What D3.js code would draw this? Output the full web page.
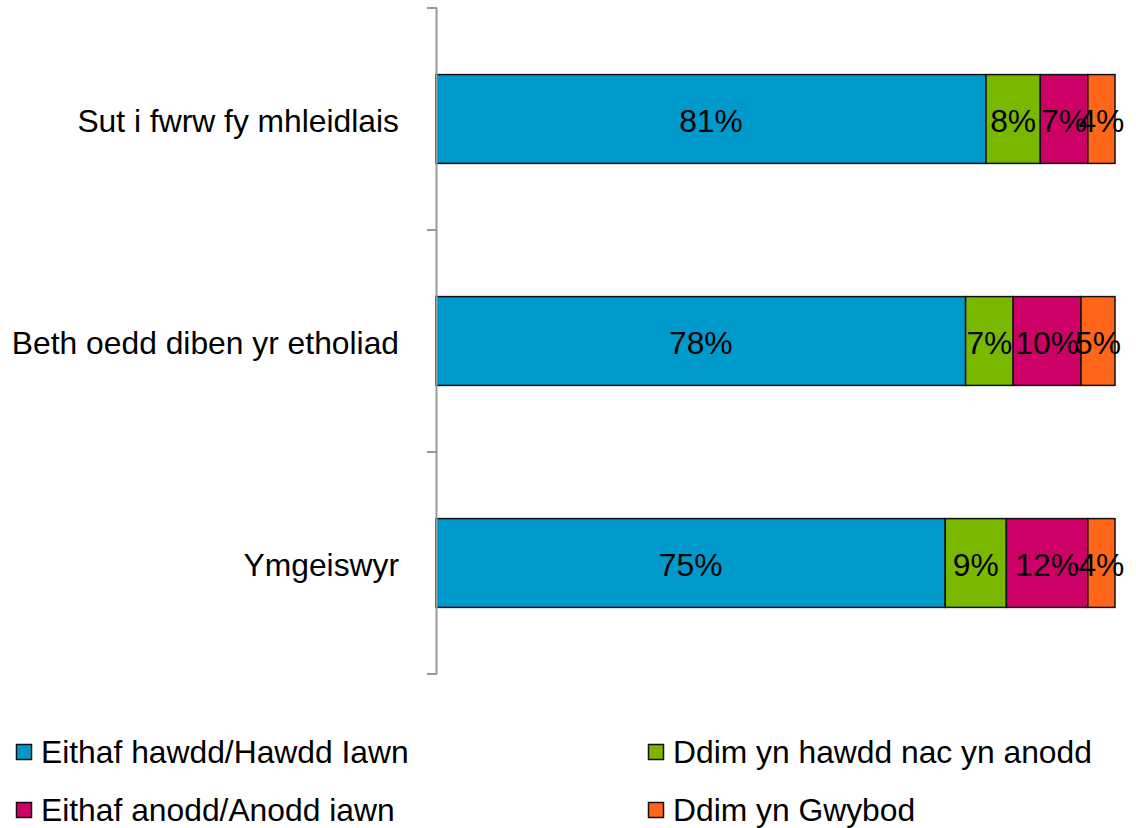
<!DOCTYPE html>
<html>
<head>
<meta charset="utf-8">
<script src="https://cdn.jsdelivr.net/npm/d3@7"></script>
<style>
  body { margin: 0; background: #fff; }
  text { font-family: "Liberation Sans", Arial, sans-serif; fill: #000; }
</style>
</head>
<body>
<div id="chart"></div>
<script>
// data
const categories = ['Sut i fwrw fy mhleidlais', 'Beth oedd diben yr etholiad', 'Ymgeiswyr']
const seriesNames = ['Eithaf hawdd/Hawdd Iawn', 'Ddim yn hawdd nac yn anodd', 'Eithaf anodd/Anodd iawn', 'Ddim yn Gwybod']
const easy = [81, 78, 75]
const neutral = [8, 7, 9]
const hard = [7, 10, 12]
const dontKnow = [4, 5, 4]
const colors = ['#0099cc', '#7ab800', '#cc0066', '#ff6619']

const width = 1136
const height = 828
const fontSize = 31.8

let svg = d3.select('#chart').append('svg')
  .attr('width', width)
  .attr('height', height)

let x = d3.scaleLinear()
  .domain([0, 100])
  .range([436, 1115])

let y = d3.scaleBand()
  .domain(categories)
  .range([8, 674])
  .paddingInner(0.6)
  .paddingOuter(0.3)

let rows = categories.map((c, i) => ({ cat: c, values: [easy[i], neutral[i], hard[i], dontKnow[i]] }))
let stack = d3.stack().keys([0, 1, 2, 3]).value((d, k) => d.values[k])
let layers = stack(rows)

// bars
let layer = svg.append('g')
  .selectAll('g')
  .data(layers)
  .enter().append('g')
  .attr('fill', (d, i) => colors[i])

layer.selectAll('rect')
  .data((d) => d)
  .enter().append('rect')
  .attr('x', (d) => x(d[0]))
  .attr('y', (d) => y(d.data.cat))
  .attr('width', (d) => x(d[1]) - x(d[0]))
  .attr('height', y.bandwidth())
  .attr('stroke', '#111')
  .attr('stroke-width', 1.5)

// bar labels (they overlap on the narrow segments, as in the original)
layer.selectAll('text')
  .data((d) => d.map((p) => ({ p: p, v: p[1] - p[0] })))
  .enter().append('text')
  .attr('x', (d) => (x(d.p[0]) + x(d.p[1])) / 2)
  .attr('y', (d) => y(d.p.data.cat) + y.bandwidth() / 2 + 2)
  .attr('dy', '0.35em')
  .attr('text-anchor', 'middle')
  .style('font-size', fontSize + 'px')
  .text((d) => d.v + '%')

// axis
let axisG = svg.append('g')
axisG.append('line')
  .attr('x1', 436.5).attr('x2', 436.5)
  .attr('y1', 8).attr('y2', 674)
  .attr('stroke', '#999').attr('stroke-width', 2)

let tickYs = d3.range(categories.length + 1).map((i) => 8 + i * (666 / categories.length))
axisG.selectAll('.tick')
  .data(tickYs)
  .enter().append('line')
  .attr('x1', 427).attr('x2', 437)
  .attr('y1', (d) => d).attr('y2', (d) => d)
  .attr('stroke', '#999').attr('stroke-width', 2)

axisG.selectAll('.cat')
  .data(categories)
  .enter().append('text')
  .attr('x', 399)
  .attr('y', (d) => y(d) + y.bandwidth() / 2 + 2)
  .attr('dy', '0.35em')
  .attr('text-anchor', 'end')
  .style('font-size', fontSize + 'px')
  .text((d) => d)

// legend
let legendPos = [[16, 752], [648, 752], [16, 810], [648, 810]]
let legend = svg.append('g')
  .selectAll('g')
  .data(seriesNames)
  .enter().append('g')
  .attr('transform', (d, i) => `translate(${legendPos[i][0]}, ${legendPos[i][1]})`)

legend.append('rect')
  .attr('x', 0.5).attr('y', -7.5)
  .attr('width', 15).attr('height', 15)
  .attr('fill', (d, i) => colors[i])
  .attr('stroke', '#111').attr('stroke-width', 1.5)

legend.append('text')
  .attr('x', 25)
  .attr('dy', '0.35em')
  .style('font-size', fontSize + 'px')
  .text((d) => d)
</script>
</body>
</html>
